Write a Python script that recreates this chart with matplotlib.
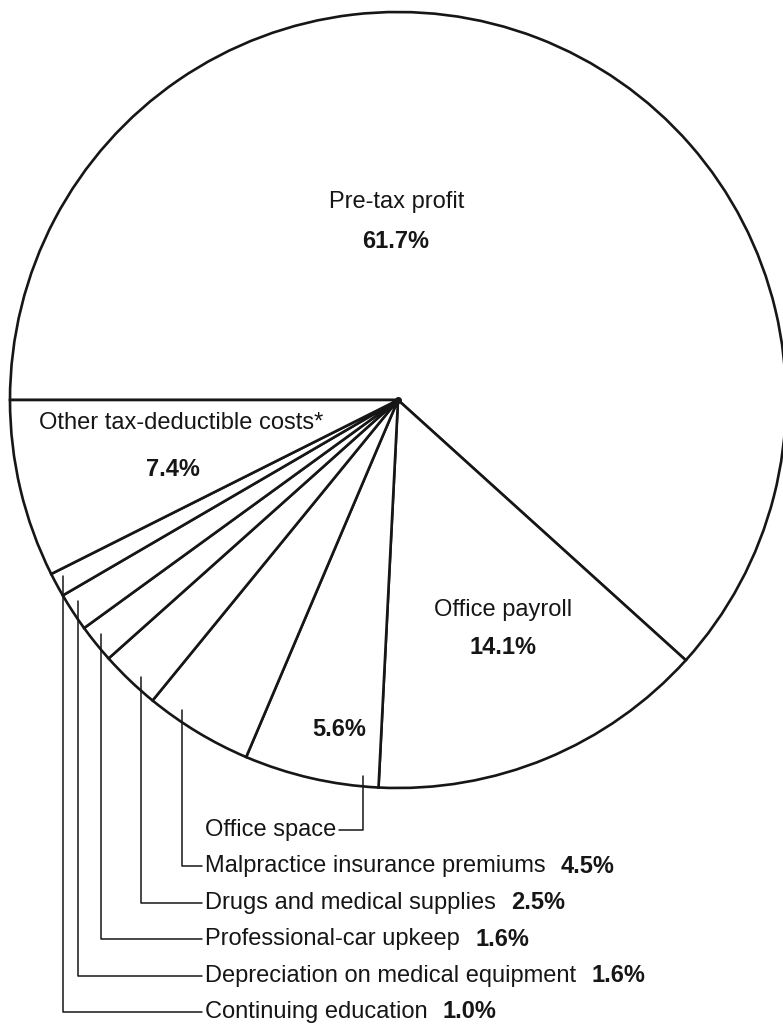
import numpy as np
import matplotlib
matplotlib.use('Agg')
import matplotlib.pyplot as plt

plt.rcParams['font.family'] = ['Liberation Sans', 'DejaVu Sans']

# where a doctor's fee goes
categories = ['Pre-tax profit', 'Office payroll', 'Office space',
              'Malpractice insurance premiums', 'Drugs and medical supplies',
              'Professional-car upkeep', 'Depreciation on medical equipment',
              'Continuing education', 'Other tax-deductible costs*']
shares = [61.7, 14.1, 5.6, 4.5, 2.5, 1.6, 1.6, 1.0, 7.4]

# slices labelled below the pie with leader lines
leader_idx = [2, 3, 4, 5, 6, 7]
leader_frac = [0.12, 0.73, 0.41, 0.6, 0.68, 0.7]

W, H = 783, 1031
fs = 17
ink = '#161616'

fig = plt.figure(figsize=(W / 100, H / 100), dpi=100)
ax = fig.add_axes([0, 0, 1, 1])

cx, cy, R = 398, H - 400, 388
wedges, _ = ax.pie(shares, startangle=180, counterclock=False,
                   center=(cx, cy), radius=R,
                   wedgeprops=dict(facecolor='white', edgecolor=ink, linewidth=1.9))
ax.plot(cx, cy, 'o', ms=4, color=ink)
ax.set_xlim(0, W)
ax.set_ylim(0, H)
ax.set_aspect('equal')
ax.axis('off')

def pct(v):
    return f'{v:.1f}%'

# labels inside the pie
ax.text(397, H - 202, categories[0], ha='center', va='center', fontsize=fs, color=ink)
ax.text(396, H - 242, pct(shares[0]), ha='center', va='center', fontsize=fs,
        fontweight='bold', color=ink)
ax.text(503, H - 610, categories[1], ha='center', va='center', fontsize=fs, color=ink)
ax.text(503, H - 647, pct(shares[1]), ha='center', va='center', fontsize=fs,
        fontweight='bold', color=ink)
ax.text(181, H - 423, categories[8], ha='center', va='center', fontsize=fs, color=ink)
ax.text(173, H - 469, pct(shares[8]), ha='center', va='center', fontsize=fs,
        fontweight='bold', color=ink)
ax.text(339, H - 729, pct(shares[2]), ha='center', va='center', fontsize=fs,
        fontweight='bold', color=ink)

# labels below with leader lines
for k, i in enumerate(leader_idx):
    w = wedges[i]
    th = np.deg2rad(w.theta2 - leader_frac[k] * (w.theta2 - w.theta1))
    px = cx + (R - 10) * np.cos(th)
    py = cy + (R - 10) * np.sin(th)
    ty = H - (830 + 36.4 * k)
    t = ax.text(205, ty, categories[i], ha='left', va='center', fontsize=fs, color=ink)
    side = 1.0 if k == 0 else 0.0
    ax.annotate('', xy=(px, py), xycoords='data', xytext=(side, 0.5), textcoords=t,
                arrowprops=dict(arrowstyle='-', connectionstyle='angle,angleA=0,angleB=90,rad=0',
                                shrinkA=2, shrinkB=0, lw=1.1, color=ink))
    if k > 0:
        ax.annotate(pct(shares[i]), xy=(1, 0.5), xycoords=t, xytext=(11, 0),
                    textcoords='offset points', ha='left', va='center',
                    fontsize=fs, fontweight='bold', color=ink)

fig.savefig('out.png', dpi=100, facecolor='white')
